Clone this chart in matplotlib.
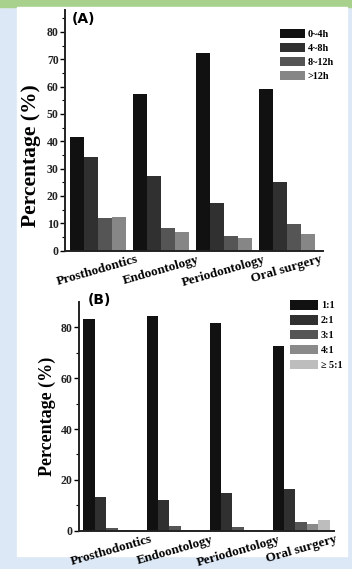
import matplotlib
matplotlib.use("Agg")
import matplotlib.pyplot as plt
from matplotlib.patches import Rectangle
import numpy as np

plt.rcParams['font.family'] = ['Liberation Serif', 'DejaVu Serif']
plt.rcParams['font.weight'] = 'bold'
plt.rcParams['axes.labelweight'] = 'bold'

# data
categories = ["Prosthodontics", "Endoontology", "Periodontology", "Oral surgery"]

time_labels = ["0~4h", "4~8h", "8~12h", ">12h"]
time_values = [
    [41.5, 57.4, 72.2, 59.2],   # 0~4h
    [34.1, 27.3, 17.6, 25.0],   # 4~8h
    [12.1, 8.4, 5.4, 9.7],      # 8~12h
    [12.2, 6.7, 4.8, 6.1],      # >12h
]
time_colors = ["#111111", "#303030", "#555555", "#868686"]

ratio_labels = ["1:1", "2:1", "3:1", "4:1", "\u2265 5:1"]
ratio_values = [
    [83.3, 84.3, 81.6, 72.8],   # 1:1
    [13.4, 12.1, 14.7, 16.3],   # 2:1
    [1.0, 2.0, 1.3, 3.3],       # 3:1
    [0.3, 0.3, 0.3, 2.5],       # 4:1
    [0.2, 0.2, 0.3, 4.2],       # >=5:1
]
ratio_colors = ["#111111", "#303030", "#555555", "#8a8a8a", "#bdbdbd"]

W, H = 352, 569
fig = plt.figure(figsize=(W / 100, H / 100), dpi=100)
fig.patch.set_facecolor("#dce8f5")
# green band at the top and white paper
fig.patches.append(Rectangle((0, 1 - 7 / H), 1, 7 / H, transform=fig.transFigure,
                             color="#a9d18e", zorder=-2))
fig.patches.append(Rectangle((17 / W, 1 - 556 / H), (347 - 17) / W, (556 - 7) / H,
                             transform=fig.transFigure, color="white", zorder=-1))


def draw_panel(ax, values, colors, labels, width, ylim, major, minor, tag, tagxy,
               leg_anchor, leg_kw, ylab_size, ylab_xy):
    x = np.arange(len(categories))
    n = len(values)
    start = -width * n / 2 + width / 2
    for i, (vals, c, lab) in enumerate(zip(values, colors, labels)):
        ax.bar(x + start + i * width, vals, width, color=c, label=lab,
               edgecolor="none")
    ax.set_ylim(*ylim)
    ax.set_yticks(np.arange(0, ylim[1], major))
    ax.set_yticks(np.arange(0, ylim[1], minor), minor=True)
    ax.set_xticks(x)
    ax.set_xticklabels(categories, rotation=16, fontsize=9.5, ha="center",
                       fontweight="bold")
    for t in ax.get_yticklabels():
        t.set_fontweight("bold")
    ax.tick_params(axis="x", length=0, pad=2)
    ax.tick_params(axis="y", which="major", length=3.5, width=1, labelsize=8.5,
                   pad=1, labelcolor="#222222")
    ax.tick_params(axis="y", which="minor", length=2, width=0.8)
    ax.set_facecolor("none")
    for s in ["top", "right"]:
        ax.spines[s].set_visible(False)
    for s in ["left", "bottom"]:
        ax.spines[s].set_linewidth(1.4)
        ax.spines[s].set_color("#222222")
    ax.set_ylabel("Percentage (%)", fontsize=ylab_size, fontweight="bold")
    ax.yaxis.set_label_coords(*ylab_xy)
    fig.text(tagxy[0] / W, 1 - tagxy[1] / H, tag, family="DejaVu Sans",
             fontsize=10, fontweight="bold", va="top", ha="left")
    ax.legend(loc="upper left", bbox_to_anchor=(leg_anchor[0] / W, 1 - leg_anchor[1] / H),
              bbox_transform=fig.transFigure, frameon=False, borderpad=0,
              borderaxespad=0, handletextpad=0.25,
              prop={"size": 7.3, "weight": "bold"}, **leg_kw)


axA = fig.add_axes([65 / W, 1 - 250.7 / H, (323 - 65) / W, (250.7 - 10) / H])
axA.set_xlim(-0.52, 3.57)
draw_panel(axA, time_values, time_colors, time_labels, 0.222, (0, 88), 10, 5,
           "(A)", (72, 12), (280, 29),
           dict(handlelength=2.5, handleheight=1.05, labelspacing=0.38),
           15.5, ((41 - 65) / 258, (250.7 - 156) / 240.7))

axB = fig.add_axes([79 / W, 1 - 530.7 / H, (334 - 79) / W, (530.7 - 302) / H])
axB.set_xlim(-0.52, 3.52)
draw_panel(axB, ratio_values, ratio_colors, ratio_labels, 0.18, (0, 90), 20, 10,
           "(B)", (88, 293), (290, 300),
           dict(handlelength=2.8, handleheight=1.1, labelspacing=0.45),
           13, ((56 - 79) / 255, 0.5))

fig.savefig("out.png", dpi=100, facecolor=fig.get_facecolor())
